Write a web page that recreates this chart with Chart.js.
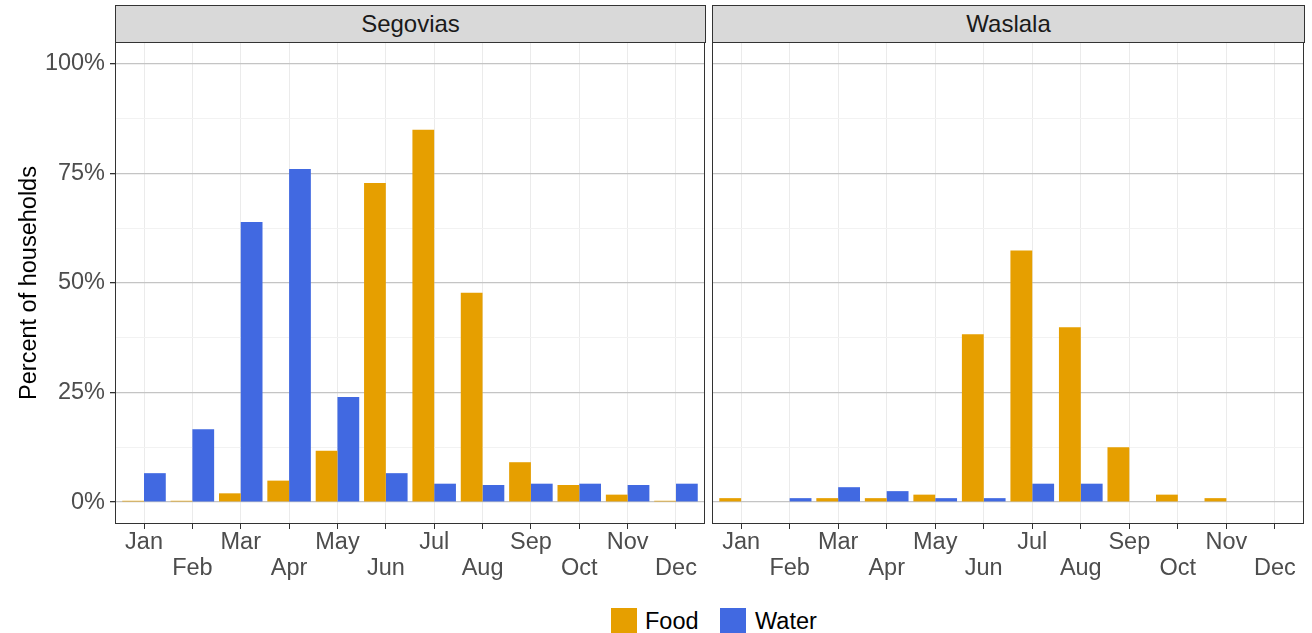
<!DOCTYPE html>
<html>
<head>
<meta charset="utf-8">
<script src="https://cdn.jsdelivr.net/npm/chart.js"></script>
<style>
body { margin: 0; background: #fff; font-family: "Liberation Sans", Arimo, Helvetica, Arial, sans-serif; }
#wrap { position: relative; width: 1312px; height: 633px; }
canvas { position: absolute; }
.strip { position: absolute; top: 5px; height: 38px; box-sizing: border-box; background: #d9d9d9; border: 1px solid #333; color: #1a1a1a; font-size: 24px; text-align: center; line-height: 35px; }
.legend { position: absolute; top: 608px; font-size: 23.5px; color: #000; }
.key { position: absolute; top: 0; width: 26px; height: 26px; }
.lab { position: absolute; top: 0; line-height: 26px; white-space: nowrap; }
</style>
</head>
<body>
<div id="wrap">
  <div class="strip" style="left:115px;width:591px;">Segovias</div>
  <div class="strip" style="left:712px;width:593px;">Waslala</div>
  <canvas id="segovias" width="708" height="552" style="left:0;top:38px;"></canvas>
  <canvas id="waslala" width="600" height="552" style="left:708px;top:38px;"></canvas>
  <div class="legend" style="left:611px;">
    <div class="key" style="left:0;background:#E69F00;"></div>
    <div class="lab" style="left:34px;">Food</div>
    <div class="key" style="left:109px;background:#4169E1;"></div>
    <div class="lab" style="left:144px;">Water</div>
  </div>
</div>
<script>
// share of households reporting scarcity, by month (%)
const months = ["Jan", "Feb", "Mar", "Apr", "May", "Jun", "Jul", "Aug", "Sep", "Oct", "Nov", "Dec"];
const segoviasFood  = [0.3, 0.3, 2.0, 4.9, 11.7, 72.8, 85.0, 47.8, 9.1, 3.9, 1.7, 0.3];
const segoviasWater = [6.6, 16.6, 63.9, 76.0, 24.0, 6.6, 4.2, 3.9, 4.2, 4.2, 3.9, 4.2];
const waslalaFood   = [0.9, 0, 0.9, 0.9, 1.7, 38.3, 57.4, 39.9, 12.5, 1.7, 0.9, 0];
const waslalaWater  = [0, 0.9, 3.4, 2.5, 0.9, 0.9, 4.2, 4.2, 0, 0, 0, 0];
const yTicks = [0, 12.5, 25, 37.5, 50, 62.5, 75, 87.5, 100];

const foodColor = "#E69F00";
const waterColor = "#4169E1";
const tickText = "#4d4d4d";
const font = "'Liberation Sans', Arimo, Helvetica, Arial, sans-serif";

const panelBorder = {
    id: "panelBorder",
    afterDraw(chart) {
        const { ctx, chartArea: a } = chart;
        ctx.save();
        ctx.strokeStyle = "#333333";
        ctx.lineWidth = 1;
        ctx.strokeRect(a.left + 0.5, a.top + 0.5, a.right - a.left - 1, a.bottom - a.top - 1);
        ctx.restore();
    }
};

function points(arr) {
    return arr.map((v, i) => ({ x: i, y: v }));
}

function makePanel(id, food, water, first) {
    const ctx = document.getElementById(id).getContext("2d");
    return new Chart(ctx, {
        type: "bar",
        data: {
            datasets: [
                { label: "Food", data: points(food), backgroundColor: foodColor },
                { label: "Water", data: points(water), backgroundColor: waterColor }
            ]
        },
        options: {
            responsive: false,
            animation: false,
            layout: { padding: { top: 4, right: first ? 3 : 4, left: 0, bottom: 0 } },
            datasets: { bar: { categoryPercentage: 0.9, barPercentage: 1, borderWidth: 0 } },
            plugins: { legend: { display: false }, tooltip: { enabled: false } },
            scales: {
                x: {
                    type: "linear",
                    offset: false,
                    min: -0.6,
                    max: 11.6,
                    afterBuildTicks: s => { s.ticks = months.map((m, i) => ({ value: i })); },
                    afterFit: s => { s.height = 66; s.paddingLeft = 0; s.paddingRight = 0; },
                    ticks: {
                        autoSkip: false,
                        maxRotation: 0,
                        color: tickText,
                        padding: 1,
                        font: { family: font, size: 23.5, lineHeight: 1.1 },
                        callback: v => v % 2 === 0 ? months[v] : ["", months[v]]
                    },
                    grid: { offset: false, color: "#ebebeb", tickColor: "#333333", tickLength: 5 },
                    border: { display: false }
                },
                y: {
                    min: -5,
                    max: 105,
                    afterBuildTicks: s => { s.ticks = yTicks.map(v => ({ value: v })); },
                    afterFit: s => { s.width = first ? 115 : 4; s.paddingTop = 0; s.paddingBottom = 0; },
                    ticks: {
                        display: first,
                        color: tickText,
                        padding: 5,
                        font: { family: font, size: 23.5 },
                        callback: v => v % 25 === 0 ? v + "%" : ""
                    },
                    grid: {
                        color: c => c.tick && c.tick.value % 25 === 0 ? "#c4c4c4" : "#f2f2f2",
                        lineWidth: c => c.tick && c.tick.value % 25 === 0 ? 1.3 : 1,
                        tickLength: 5,
                        tickColor: c => first && c.tick && c.tick.value % 25 === 0 ? "#333333" : "rgba(0,0,0,0)"
                    },
                    border: { display: false },
                    title: {
                        display: first,
                        text: "Percent of households",
                        color: "#000",
                        padding: { top: 15, bottom: 0 },
                        font: { family: font, size: 23.5 }
                    }
                }
            }
        },
        plugins: [panelBorder]
    });
}

makePanel("segovias", segoviasFood, segoviasWater, true);
makePanel("waslala", waslalaFood, waslalaWater, false);
</script>
</body>
</html>
